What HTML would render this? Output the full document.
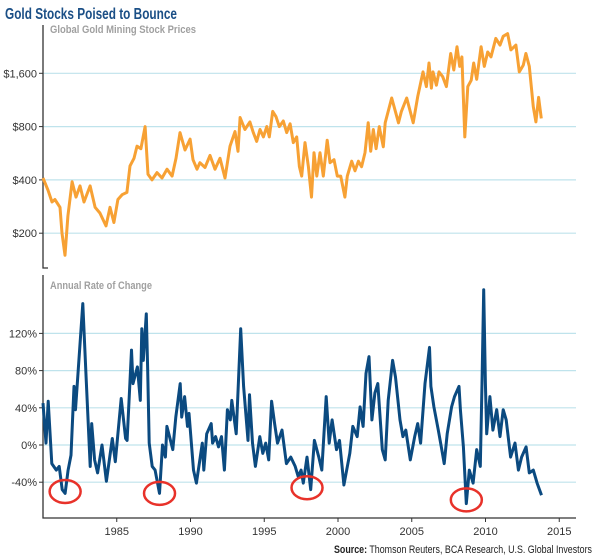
<!DOCTYPE html>
<html><head><meta charset="utf-8"><style>
html,body{margin:0;padding:0;background:#fff;}
svg{display:block;font-family:"Liberation Sans",sans-serif;}
</style></head><body>
<svg id="chart" width="600" height="560" viewBox="0 0 600 560">
<text x="5" y="19" font-size="16" font-weight="bold" fill="#1b4f86" textLength="172" lengthAdjust="spacingAndGlyphs">Gold Stocks Poised to Bounce</text>
<text x="50" y="33" font-size="11" font-weight="bold" fill="#a0a0a0" textLength="146" lengthAdjust="spacingAndGlyphs">Global Gold Mining Stock Prices</text>
<text x="50" y="289" font-size="11" font-weight="bold" fill="#a0a0a0" textLength="102" lengthAdjust="spacingAndGlyphs">Annual Rate of Change</text>
<g id="grid"></g>
<g id="axes"></g>
<g id="series"></g>
<g id="circles"></g>
<text x="592" y="553" font-size="11" fill="#222" text-anchor="end" textLength="258" lengthAdjust="spacingAndGlyphs"><tspan font-weight="bold">Source:</tspan> Thomson Reuters, BCA Research, U.S. Global Investors</text>
</svg>
<script>
const priceYears=[1980.0,1980.34,1980.61,1980.81,1981.15,1981.29,1981.49,1981.69,1981.97,1982.24,1982.51,1982.78,1983.19,1983.53,1983.86,1984.27,1984.54,1984.81,1985.08,1985.36,1985.69,1985.9,1986.17,1986.37,1986.64,1986.92,1987.12,1987.39,1987.73,1988.07,1988.41,1988.75,1989.02,1989.29,1989.63,1989.97,1990.17,1990.44,1990.64,1990.98,1991.32,1991.66,1992.0,1992.34,1992.68,1993.02,1993.22,1993.36,1993.69,1994.03,1994.26,1994.49,1994.71,1994.94,1995.17,1995.34,1995.57,1995.8,1996.02,1996.29,1996.52,1996.75,1996.97,1997.2,1997.38,1997.54,1997.76,1997.99,1998.2,1998.37,1998.56,1998.78,1999.0,1999.27,1999.46,1999.73,1999.95,2000.18,2000.47,2000.63,2000.93,2001.15,2001.38,2001.6,2001.83,2002.05,2002.22,2002.39,2002.58,2002.8,2002.85,2003.07,2003.2,2003.64,2004.1,2004.3,2004.66,2005.1,2005.4,2005.76,2005.99,2006.17,2006.33,2006.44,2006.67,2006.85,2007.1,2007.35,2007.64,2007.85,2008.07,2008.25,2008.4,2008.6,2008.8,2009.03,2009.2,2009.4,2009.7,2009.92,2010.15,2010.37,2010.7,2010.98,2011.2,2011.5,2011.72,2012.06,2012.29,2012.56,2012.74,2012.97,2013.24,2013.42,2013.6,2013.78];
const priceValues=[410,350,300,310,280,200,150,250,390,320,370,300,370,280,260,220,280,230,310,330,340,480,530,620,600,800,430,400,440,410,460,420,530,740,590,680,520,460,500,470,550,460,530,410,620,750,580,900,770,850,740,660,770,700,800,700,975,910,800,860,740,830,650,700,475,420,650,475,320,570,420,570,420,670,500,520,420,420,320,420,510,450,510,475,570,840,580,770,600,800,760,615,840,1160,840,975,1160,840,1180,1630,1345,1830,1320,1630,1370,1630,1530,1345,2070,1670,2260,1750,1980,700,1345,1460,1830,1480,2260,1750,2110,1980,2520,2310,2590,2680,2170,2310,1630,1780,2070,1750,1035,850,1170,890];
const rateYears=[1980.0,1980.2,1980.35,1980.6,1980.9,1981.1,1981.3,1981.5,1981.7,1981.9,1982.1,1982.2,1982.7,1982.9,1983.2,1983.3,1983.5,1983.7,1984.0,1984.3,1984.7,1984.9,1985.3,1985.6,1985.7,1986.0,1986.1,1986.4,1986.6,1986.7,1986.8,1987.0,1987.1,1987.2,1987.4,1987.6,1987.9,1988.1,1988.3,1988.4,1988.8,1989.0,1989.3,1989.4,1989.6,1989.8,1989.9,1990.2,1990.4,1990.6,1990.8,1990.9,1991.1,1991.4,1991.5,1991.7,1991.9,1992.1,1992.3,1992.5,1992.7,1992.8,1993.1,1993.4,1993.6,1993.9,1994.0,1994.2,1994.4,1994.7,1994.9,1995.1,1995.3,1995.5,1995.7,1995.9,1996.2,1996.5,1996.8,1997.1,1997.3,1997.5,1997.65,1997.9,1998.15,1998.4,1998.7,1998.9,1999.2,1999.4,1999.6,1999.9,2000.1,2000.4,2000.8,2001.0,2001.3,2001.5,2001.7,2001.9,2002.1,2002.3,2002.5,2002.7,2003.0,2003.2,2003.4,2003.7,2003.9,2004.2,2004.4,2004.6,2004.9,2005.2,2005.4,2005.6,2005.9,2006.2,2006.3,2006.5,2006.8,2007.0,2007.2,2007.4,2007.7,2007.9,2008.2,2008.3,2008.5,2008.7,2008.9,2009.16,2009.4,2009.65,2009.76,2009.88,2009.99,2010.08,2010.3,2010.5,2010.76,2010.98,2011.2,2011.4,2011.7,2012.0,2012.23,2012.45,2012.75,2012.97,2013.24,2013.5,2013.8];
const rateValues=[45,2,47,-20,-27,-23,-48,-52,-27,-11,63,38,152,80,-23,23,-16,-30,0,-39,7,-18,50,7,5,102,66,84,48,125,91,141,80,2,-23,-27,-52,0,-13,20,-5,30,66,30,52,20,34,-27,-41,-20,2,-27,12,23,2,9,-2,9,-27,38,27,48,12,125,63,5,54,2,-23,9,-9,2,-16,47,23,2,16,-20,-13,-23,-34,-27,-41,-13,-48,5,-13,-27,52,2,27,-5,5,-43,-9,20,9,41,20,77,95,27,56,66,-5,-16,48,91,73,27,9,16,-16,9,23,2,66,105,63,41,16,-2,-20,12,41,52,63,38,-2,-63,-27,-41,-5,-23,66,167,66,12,52,16,38,9,38,27,-13,2,-27,-13,-2,-30,-27,-41,-54];
const priceTicks=[200,400,800,1600];
const priceTickLabels=["$200","$400","$800","$1,600"];
const rateTicks=[-40,0,40,80,120];
const rateTickLabels=["-40%","0%","40%","80%","120%"];
const yearTicks=[1985,1990,1995,2000,2005,2010,2015];
const lowYears=[1981.5,1987.9,1997.9,2008.7];
const lowRates=[-50,-52,-46,-59];

const NS="http://www.w3.org/2000/svg";
const X0=43,XR=576;
function xScale(yr){return X0+(yr-1980)*14.75;}
function yPrice(p){return 73.3-Math.log2(p/1600)*53.3;}
function yRate(v){return 445-v*0.93;}
function mk(tag,attrs,parent){const e=document.createElementNS(NS,tag);for(const k in attrs)e.setAttribute(k,attrs[k]);parent.appendChild(e);return e;}
const grid=document.getElementById('grid'),axes=document.getElementById('axes'),series=document.getElementById('series'),circles=document.getElementById('circles');

priceTicks.forEach((t,i)=>{const y=yPrice(t);
 const l=mk('line',{x1:X0,x2:XR,y1:y,y2:y,stroke:'#bfe3ec','stroke-width':1.2},grid);
 
 
 const tk=mk('line',{x1:X0-4,x2:X0,y1:y,y2:y,stroke:'#333'},axes);
 
 
 const tx=mk('text',{x:37,y:y+4,'font-size':11,fill:'#333','text-anchor':'end'},axes);tx.textContent=priceTickLabels[i];
 
 
});
rateTicks.forEach((t,i)=>{const y=yRate(t);
 const l=mk('line',{x1:X0,x2:XR,y1:y,y2:y,stroke:'#bfe3ec','stroke-width':1.2},grid);
 
 
 const tk=mk('line',{x1:X0-4,x2:X0,y1:y,y2:y,stroke:'#333'},axes);
 
 
 const tx=mk('text',{x:37,y:y+4,'font-size':11,fill:'#333','text-anchor':'end'},axes);tx.textContent=rateTickLabels[i];
 
 
});
let a=mk('path',{d:`M${X0} 25V268H${X0+5}`,stroke:'#333','stroke-width':1.3,fill:'none'},axes);


a=mk('path',{d:`M${X0} 275V518H${XR}`,stroke:'#333','stroke-width':1.3,fill:'none'},axes);


yearTicks.forEach(yr=>{const x=xScale(yr);
 const tk=mk('line',{x1:x,x2:x,y1:518,y2:522,stroke:'#333'},axes);
 
 
 const tx=mk('text',{x:x,y:535,'font-size':11,fill:'#333','text-anchor':'middle'},axes);tx.textContent=yr;
 
 
});
let d=priceYears.map((yr,i)=>(i?'L':'M')+xScale(yr).toFixed(1)+' '+yPrice(priceValues[i]).toFixed(1)).join('');
const pl=mk('path',{d:d,stroke:'#f7a134','stroke-width':3,fill:'none','stroke-linejoin':'round'},series);


d=rateYears.map((yr,i)=>(i?'L':'M')+xScale(yr).toFixed(1)+' '+yRate(rateValues[i]).toFixed(1)).join('');
const rl=mk('path',{d:d,stroke:'#0b4a80','stroke-width':3,fill:'none','stroke-linejoin':'round'},series);


lowYears.forEach((yr,i)=>{
 const c=mk('ellipse',{cx:xScale(yr),cy:yRate(lowRates[i]),rx:15.5,ry:11.5,stroke:'#e8322a','stroke-width':2.5,fill:'none'},circles);
 
 
});
</script>
</body></html>
